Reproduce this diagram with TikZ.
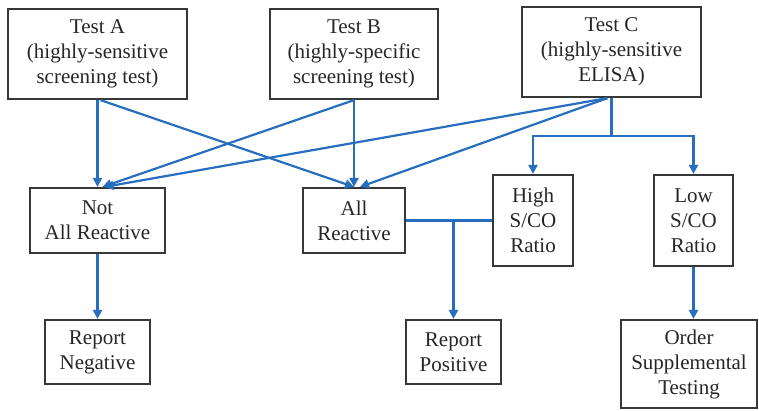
\documentclass[tikz,border=0pt]{standalone}
\usepackage{fontspec}
\setmainfont{Liberation Serif}[Ligatures=TeX]
\usetikzlibrary{arrows.meta}
\definecolor{lineblue}{RGB}{40,110,190}
\definecolor{boxgray}{RGB}{55,55,55}
\begin{document}
\begin{tikzpicture}[x=1pt,y=-1pt,
  box/.style={draw=boxgray,line width=2.2pt,align=center,inner sep=0pt,
    font=\rmfamily\fontsize{21}{25}\selectfont,text=black!85},
  conn/.style={draw=lineblue,line width=2.2pt},
  arr/.style={conn,-{Triangle[length=9pt,width=9pt]}}]
\useasboundingbox (0,0) rectangle (759,410);
\node[box,minimum width=179pt,minimum height=90pt] (A) at (97.5,54) {Test A\\(highly-sensitive\\screening test)};
\node[box,minimum width=168pt,minimum height=90pt] (B) at (354,54) {Test B\\(highly-specific\\screening test)};
\node[box,minimum width=179pt,minimum height=90pt] (C) at (611.5,52) {Test C\\(highly-sensitive\\ELISA)};
\node[box,minimum width=135pt,minimum height=65pt] (NAR) at (97.5,220.5) {Not\\All Reactive};
\node[box,minimum width=102pt,minimum height=65pt] (AR) at (354,220.5) {All\\Reactive};
\node[box,minimum width=80pt,minimum height=91pt] (H) at (533,220.5) {High\\S/CO\\Ratio};
\node[box,minimum width=79pt,minimum height=91pt] (L) at (693.5,220.5) {Low\\S/CO\\Ratio};
\node[box,minimum width=105pt,minimum height=64pt] (RN) at (97.5,352) {Report\\Negative};
\node[box,minimum width=95pt,minimum height=64pt] (RP) at (453.5,352) {Report\\Positive};
\node[box,minimum width=136pt,minimum height=88pt] (OS) at (689,364) {Order\\Supplemental\\Testing};
% Test A
\draw[arr] (A.south) -- (NAR.north);
\draw[arr] ([xshift=3pt]A.south) -- (AR.north);
% Test B
\draw[arr] (B.south) -- ([xshift=5pt]NAR.north);
\draw[arr] (B.south) -- (AR.north);
% Test C
\draw[arr] ([xshift=-4pt]C.south) -- ([xshift=7pt]NAR.north);
\draw[arr] ([xshift=-4pt]C.south) -- ([xshift=6pt]AR.north);
\coordinate (cb) at (611.5,136);
\draw[conn] (C.south) -- (cb);
\draw[arr] (cb) -| (H.north);
\draw[arr] (cb) -| (L.north);
% lower
\draw[arr] (NAR.south) -- (RN.north);
\draw[conn] (AR.east) -- (H.west);
\coordinate (pb) at (453.5,220.5);
\draw[arr] (pb) -- (RP.north);
\draw[arr] (L.south) -- (L.south |- OS.north);
\end{tikzpicture}
\end{document}
